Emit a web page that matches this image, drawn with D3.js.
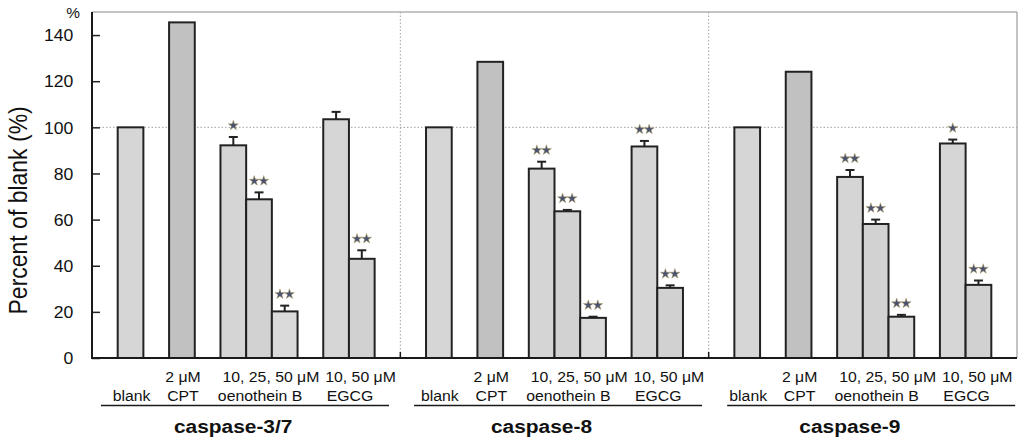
<!DOCTYPE html>
<html>
<head>
<meta charset="utf-8">
<script src="https://cdn.jsdelivr.net/npm/d3@7"></script>
<style>
  body { margin: 0; background: #fff; }
  svg { display: block; }
  text { font-family: "Liberation Sans", Arial, sans-serif; fill: #111; }
</style>
</head>
<body>
<div class="chart"></div>
<script>
// values (percent of blank)
const panels = ["caspase-3/7", "caspase-8", "caspase-9"];
const treatments = ["blank", "cpt", "oeno10", "oeno25", "oeno50", "egcg10", "egcg50"];
const caspase37 = [100, 145.5, 92.2, 68.8, 20.2, 103.5, 43.0];
const caspase8  = [100, 128.4, 82.1, 63.6, 17.4, 91.7, 30.4];
const caspase9  = [100, 124.1, 78.5, 58.1, 17.9, 93.0, 31.7];
const err37 = [0, 0, 3.6, 3.0, 2.5, 3.2, 3.7];
const err8  = [0, 0, 3.0, 0.6, 0.5, 2.4, 1.1];
const err9  = [0, 0, 3.0, 1.9, 0.8, 1.7, 1.9];
const stars37 = [0, 0, 1, 2, 2, 0, 2];
const stars8  = [0, 0, 2, 2, 2, 2, 2];
const stars9  = [0, 0, 2, 2, 2, 1, 2];
const yTicks = [0, 20, 40, 60, 80, 100, 120, 140];
// label groups under each panel: [first line, second line, member bars]
const groups = [
    {top: "", bottom: "blank", bars: ["blank"]},
    {top: "2 μM", bottom: "CPT", bars: ["cpt"]},
    {top: "10, 25, 50 μM", bottom: "oenothein B", bars: ["oeno10", "oeno25", "oeno50"]},
    {top: "10, 50 μM", bottom: "EGCG", bars: ["egcg10", "egcg50"]}
];
const fills = {blank: "#d6d6d6", cpt: "#c1c1c1", oeno10: "#d5d5d5", oeno25: "#d2d2d2",
               oeno50: "#dadada", egcg10: "#d6d6d6", egcg50: "#d1d1d1"};

const allValues = [caspase37, caspase8, caspase9];
const allErr = [err37, err8, err9];
const allStars = [stars37, stars8, stars9];

const data = [];
panels.forEach((p, pi) => {
    treatments.forEach((t, ti) => {
        data.push({panel: p, key: t, value: allValues[pi][ti], err: allErr[pi][ti], stars: allStars[pi][ti]});
    });
});

const SX = 1.1; // tick numbers and titles are drawn a little wide
const margin = {top: 12, right: 7, bottom: 87, left: 92};
const W = 1024, H = 445;
const width = W - margin.left - margin.right,
      height = H - margin.top - margin.bottom;

const svg = d3.select(".chart").append("svg")
    .attr("width", W).attr("height", H)
    .append("g")
    .attr("transform", `translate(${margin.left},${margin.top})`);

const panelScale = d3.scaleBand().domain(panels).range([0, width]);
// each panel: gaps between bar groups
const slots = ["g0", "blank", "g1", "cpt", "g2", "oeno10", "oeno25", "oeno50", "g3", "egcg10", "egcg50", "g4"];
const slotScale = d3.scaleBand().domain(slots).range([0, panelScale.bandwidth()]);
const x = d => panelScale(d.panel) + slotScale(d.key);

const y = d3.scaleLinear().domain([0, 150]).range([height, 0]);

// frame: top and right in grey
svg.append("path")
    .attr("d", `M0,0H${width}V${height}`)
    .attr("fill", "none").attr("stroke", "#8a8a8a").attr("stroke-width", 1);

// dotted reference at 100 and panel dividers
svg.append("line")
    .attr("x1", 0).attr("x2", width)
    .attr("y1", y(100)).attr("y2", y(100))
    .attr("stroke", "#a0a0a0").attr("stroke-width", 1).attr("stroke-dasharray", "1.5,2");
svg.selectAll(".divider")
    .data(panels.slice(1))
    .enter().append("line")
    .attr("class", "divider")
    .attr("x1", d => panelScale(d)).attr("x2", d => panelScale(d))
    .attr("y1", 0).attr("y2", height)
    .attr("stroke", "#a0a0a0").attr("stroke-width", 1).attr("stroke-dasharray", "1.5,2");

// bars
svg.selectAll("rect.bar")
    .data(data)
    .enter().append("rect")
    .attr("class", "bar")
    .attr("x", d => x(d))
    .attr("width", slotScale.bandwidth())
    .attr("y", d => y(d.value))
    .attr("height", d => y(0) - y(d.value))
    .attr("fill", d => fills[d.key])
    .attr("stroke", "#222")
    .attr("stroke-width", 2);

// error bars (upper half only)
const withErr = data.filter(d => d.err > 0);
const errG = svg.selectAll("g.err")
    .data(withErr)
    .enter().append("g")
    .attr("class", "err")
    .attr("transform", d => `translate(${x(d) + slotScale.bandwidth() / 2},0)`);
errG.append("line")
    .attr("x1", 0).attr("x2", 0)
    .attr("y1", d => y(d.value)).attr("y2", d => y(d.value + d.err))
    .attr("stroke", "#222").attr("stroke-width", 2);
errG.append("line")
    .attr("x1", -4.5).attr("x2", 4.5)
    .attr("y1", d => y(d.value + d.err)).attr("y2", d => y(d.value + d.err))
    .attr("stroke", "#222").attr("stroke-width", 2);

// significance stars
const star = d3.symbol().type(d3.symbolStar).size(32);
data.filter(d => d.stars > 0).forEach(d => {
    const cx = x(d) + slotScale.bandwidth() / 2;
    const cy = y(d.value + d.err) - 11.5;
    d3.range(d.stars).forEach(i => {
        const off = (i - (d.stars - 1) / 2) * 9.5;
        svg.append("path")
            .attr("d", star())
            .attr("transform", `translate(${cx + off},${cy})`)
            .attr("fill", "#4a5270")
            .attr("stroke", "#b9a76a")
            .attr("stroke-width", 0.5);
    });
});

// y axis
const yAxis = d3.axisLeft(y)
    .tickValues(yTicks)
    .tickSize(-8)
    .tickPadding(17);
const yAxisDisplay = svg.append("g")
    .attr("class", "axis y-axis")
    .call(yAxis);
yAxisDisplay.select(".domain").remove();
yAxisDisplay.selectAll(".tick line").attr("stroke", "#222").attr("stroke-width", 1.5);
yAxisDisplay.selectAll(".tick text")
    .attr("font-size", 16)
    .attr("font-family", "Liberation Sans, Arial, sans-serif")
    .attr("fill", "#111")
    .attr("dy", "0.36em")
    .attr("transform", `scale(${SX},1)`);
svg.append("line")
    .attr("x1", 0).attr("x2", 0).attr("y1", 0).attr("y2", height + 1)
    .attr("stroke", "#1a1a1a").attr("stroke-width", 2);

// x axis line with small ticks at the panel dividers
svg.append("line")
    .attr("x1", -1).attr("x2", width).attr("y1", height).attr("y2", height)
    .attr("stroke", "#1a1a1a").attr("stroke-width", 2);
svg.selectAll(".xtick")
    .data(panels.slice(1))
    .enter().append("line")
    .attr("x1", d => panelScale(d)).attr("x2", d => panelScale(d))
    .attr("y1", height).attr("y2", height - 6)
    .attr("stroke", "#1a1a1a").attr("stroke-width", 1.5);

// text helper, sx = horizontal stretch
function label(parent, px, py, str, size, anchor, weight, sx) {
    const g = parent.append("g").attr("transform", `translate(${px},${py}) scale(${sx || SX},1)`);
    g.append("text")
        .attr("text-anchor", anchor)
        .attr("font-size", size)
        .attr("font-weight", weight || "normal")
        .text(str);
    return g;
}

// percent marker and y title
label(svg, -12, 6, "%", 14, "end");
svg.append("g")
    .attr("transform", `translate(${26.5 - margin.left},${y(64)}) scale(${SX},1) rotate(-90)`)
    .append("text")
    .attr("text-anchor", "middle")
    .attr("font-size", 23)
    .text("Percent of blank (%)");

// category labels
panels.forEach(p => {
    const p0 = panelScale(p);
    groups.forEach(gr => {
        const left = p0 + slotScale(gr.bars[0]);
        const right = p0 + slotScale(gr.bars[gr.bars.length - 1]) + slotScale.bandwidth();
        const mid = (left + right) / 2;
        if (gr.top) {
            if (gr.bars.length > 1) label(svg, left + 2, height + 23.5, gr.top, 15.5, "start", null, 1.02);
            else label(svg, mid + 1, height + 23.5, gr.top, 15.5, "middle", null, 1.02);
        }
        label(svg, mid + 1, height + 43, gr.bottom, 15.5, "middle", null, 1.02);
    });
});

// underline and caspase name per panel
panels.forEach((p, i) => {
    const p0 = panelScale(p);
    svg.append("line")
        .attr("x1", p0 + 9 + 4.75 * i).attr("x2", p0 + 297 + 4.75 * i)
        .attr("y1", height + 47.5).attr("y2", height + 47.5)
        .attr("stroke", "#1a1a1a").attr("stroke-width", 1.5);
    label(svg, p0 + panelScale.bandwidth() / 2 - 13, height + 75, p, 19, "middle", "bold");
});
</script>
</body>
</html>
